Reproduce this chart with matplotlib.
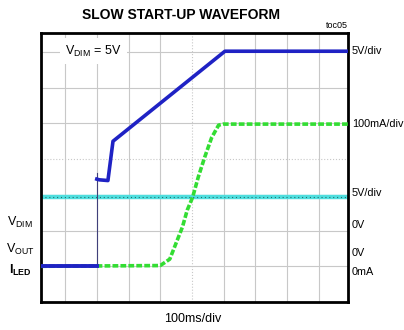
import matplotlib.pyplot as plt

# scope trace vertices, in grid divisions (x: 0 = first grid line, y: 0 = VOUT/ILED ground)
vout_x = [-0.76, 1.0, 1.0, 1.0, 1.08, 1.35, 1.51, 5.04, 8.92]
vout_y = [0.0, 0.0, 2.6, 2.44, 2.42, 2.4, 3.5, 6.02, 6.02]

iled_x = [-0.76, 3.0, 3.3, 3.5, 3.7, 3.85, 4.02, 4.2, 4.4, 4.62, 4.84, 4.98, 8.92]
iled_y = [0.0, 0.02, 0.2, 0.65, 1.1, 1.57, 1.93, 2.5, 3.05, 3.6, 3.95, 3.98, 3.98]

vdim_x = [-0.76, 8.92]
vdim_y = [1.93, 1.93]

right_labels = ["5V/div", "100mA/div", "5V/div", "0V", "0V", "0mA"]
right_label_y = [6.02, 3.98, 2.05, 1.15, 0.38, -0.15]

font = ['Liberation Sans Narrow', 'Liberation Sans', 'DejaVu Sans']
plt.rcParams['font.family'] = font

fig = plt.figure(figsize=(4.04, 3.30), dpi=100)
ax = fig.add_axes([41 / 404, 1 - 302 / 330, 307 / 404, 269 / 330])

ax.set_xlim(-0.76, 8.92)
ax.set_ylim(-1.0, 6.53)

for k in range(0, 9):
    ls = ':' if k == 4 else '-'
    ax.axvline(k, color='#c8c8c8', lw=0.8, ls=ls, zorder=0)
for k in range(0, 7):
    ls = ':' if k == 3 else '-'
    ax.axhline(k, color='#c8c8c8', lw=0.8, ls=ls, zorder=0)

# VDIM trace
ax.plot(vdim_x, vdim_y, color='#4fdede', lw=3.2, zorder=2, solid_capstyle='butt')
ax.plot(vdim_x, vdim_y, color='#207070', lw=0.8, ls=(0, (1, 2.5)), zorder=2.1)

# ILED trace
ax.plot(iled_x, iled_y, color='#33dd33', lw=2.6, zorder=3, ls=(0, (1.6, 0.6)))

# VOUT trace, thin edge at the jump
ax.plot([1.0, 1.0], [0.0, 2.6], color='#40407a', lw=0.8, zorder=4)
ax.plot(vout_x[:2], vout_y[:2], color='#1f22c4', lw=2.8, zorder=4)
ax.plot(vout_x[3:], vout_y[3:], color='#1f22c4', lw=2.6, zorder=4)

ax.set_xticks([])
ax.set_yticks([])
for s in ax.spines.values():
    s.set_linewidth(2)

ax.text(0.0, 6.02, r'V$_{\mathregular{DIM}}$ = 5V', fontsize=9, va='center', ha='left',
        bbox=dict(facecolor='white', edgecolor='none', pad=4), zorder=5)

for lab, yy in zip(right_labels, right_label_y):
    ax.text(1.012, yy, lab, transform=ax.get_yaxis_transform(), fontsize=7.8,
            va='center', ha='left', clip_on=False)

fig.text(20 / 404, 1 - 222 / 330, r'V$_{\mathregular{DIM}}$', fontsize=9, ha='center', va='center')
fig.text(20 / 404, 1 - 249 / 330, r'V$_{\mathregular{OUT}}$', fontsize=9, ha='center', va='center')
fig.text(20 / 404, 1 - 270 / 330, r'I$_{\mathregular{LED}}$', fontsize=9, ha='center', va='center',
         fontweight='bold')

fig.text(181 / 404, 1 - 15 / 330, 'SLOW START-UP WAVEFORM', fontsize=10, fontweight='bold',
         ha='center', va='center', family=['Liberation Sans', 'DejaVu Sans'])
fig.text(348 / 404, 1 - 26 / 330, 'toc05', fontsize=6.5, ha='right', va='center')
fig.text(193 / 404, 1 - 319 / 330, '100ms/div', fontsize=9, ha='center', va='center')

fig.savefig('out.png', dpi=100)
